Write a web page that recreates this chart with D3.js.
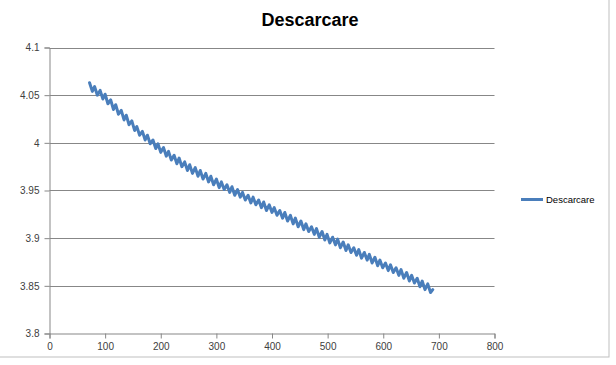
<!DOCTYPE html>
<html><head><meta charset="utf-8">
<script src="https://cdn.jsdelivr.net/npm/d3@7"></script>
<style>html,body{margin:0;padding:0;background:#fff;}svg{display:block;}</style>
</head><body>
<svg id="c" width="616" height="365"></svg>
<script>
const title = "Descarcare";
const seriesName = "Descarcare";
const xTicks = [0,100,200,300,400,500,600,700,800];
const yTicks = [3.8,3.85,3.9,3.95,4,4.05,4.1];
const xs = [72,77,81,86,91,96,100,105,110,115,119,124,129,134,138,143,148,153,157,162,167,172,176,181,186,191,195,200,205,210,214,219,224,229,233,238,243,248,252,257,262,267,271,276,281,286,290,295,300,305,309,314,319,324,328,333,338,343,347,352,357,362,366,371,376,381,385,390,395,400,404,409,414,419,423,428,433,438,442,447,452,457,461,466,471,476,480,485,490,495,499,504,509,514,518,523,528,533,537,542,547,552,556,561,566,571,575,580,585,590,594,599,604,609,613,618,623,628,632,637,642,647,651,656,661,666,670,675,680,685,689];
const ys = [4.063,4.054,4.059,4.050,4.055,4.046,4.051,4.041,4.045,4.035,4.040,4.030,4.034,4.024,4.029,4.019,4.023,4.013,4.017,4.008,4.012,4.003,4.008,3.999,4.003,3.994,3.999,3.990,3.995,3.986,3.991,3.982,3.987,3.978,3.984,3.975,3.980,3.971,3.977,3.968,3.974,3.965,3.971,3.962,3.968,3.959,3.965,3.956,3.962,3.953,3.959,3.951,3.956,3.948,3.954,3.945,3.951,3.943,3.948,3.940,3.945,3.937,3.943,3.935,3.940,3.932,3.938,3.929,3.935,3.927,3.932,3.924,3.929,3.921,3.927,3.918,3.924,3.915,3.921,3.912,3.918,3.909,3.915,3.907,3.912,3.904,3.910,3.901,3.907,3.898,3.904,3.895,3.901,3.893,3.899,3.890,3.896,3.887,3.893,3.885,3.890,3.882,3.888,3.879,3.885,3.877,3.883,3.874,3.880,3.871,3.877,3.869,3.874,3.866,3.872,3.864,3.869,3.861,3.867,3.858,3.864,3.855,3.861,3.853,3.858,3.849,3.855,3.846,3.852,3.843,3.846];

const svg = d3.select("#c");
const font = "'Liberation Sans', Arial, sans-serif";
// chart border
svg.append("rect").attr("x",-1).attr("y",-1).attr("width",610).attr("height",358)
  .attr("fill","#fff").attr("stroke","#bfbfbf").attr("stroke-width",1);

const x = d3.scaleLinear().domain([0,800]).range([49.5,494.5]);
const y = d3.scaleLinear().domain([3.8,4.1]).range([333.5,47.5]);

// gridlines
svg.append("g").selectAll("line").data(yTicks.slice(1)).join("line")
  .attr("x1",x(0)).attr("x2",x(800))
  .attr("y1",d=>Math.round(y(d))+0.5).attr("y2",d=>Math.round(y(d))+0.5)
  .attr("stroke","#878787").attr("stroke-width",1);

// y axis
const yAxis = svg.append("g").attr("transform",`translate(${x(0)},0)`)
  .call(d3.axisLeft(y).tickValues(yTicks).tickSize(5).tickFormat(d=>d3.format("")(d)));
// x axis
const xAxis = svg.append("g").attr("transform",`translate(0,${y(3.8)})`)
  .call(d3.axisBottom(x).tickValues(xTicks).tickSize(5).tickFormat(d3.format("d")));
[yAxis,xAxis].forEach(g=>{
  g.select(".domain").attr("stroke","#878787");
  g.selectAll(".tick line").attr("stroke","#878787");
  g.selectAll("text").attr("fill","#404040").style("font-family",font).style("font-size","10px");
});
yAxis.selectAll("text").attr("x",-10);
xAxis.selectAll("text").attr("y",9);

// line
const data = xs.map((v,i)=>[v,ys[i]]);
svg.append("path").datum(data)
  .attr("d",d3.line().x(d=>x(d[0])).y(d=>y(d[1])))
  .attr("fill","none").attr("stroke","#4a7ebb").attr("stroke-width",3)
  .attr("stroke-linejoin","round").attr("stroke-linecap","round");

// title
svg.append("text").attr("x",310).attr("y",26).attr("text-anchor","middle")
  .style("font-family",font).style("font-size","18px").style("font-weight","bold")
  .attr("fill","#000").text(title);

// legend
svg.append("line").attr("x1",521).attr("x2",543).attr("y1",199.5).attr("y2",199.5)
  .attr("stroke","#4a7ebb").attr("stroke-width",3);
svg.append("text").attr("x",546).attr("y",203).style("font-family",font).style("font-size","9.5px")
  .attr("fill","#000").text(seriesName);
</script>
</body></html>
